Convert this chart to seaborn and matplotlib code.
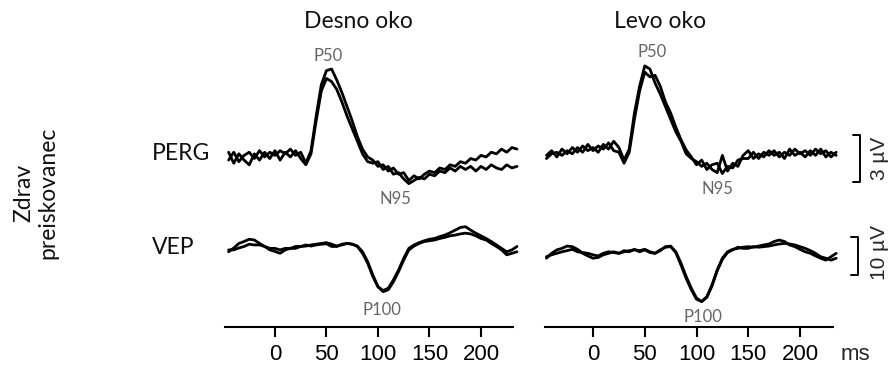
import numpy as np
import pandas as pd
import seaborn as sns
import matplotlib.pyplot as plt

# time axis (ms), one sample every 5 ms
t = np.arange(-45, 240, 5)

# PERG, desno oko (uV)
perg_desno_1 = [-0.2, 0.3, -0.3, 0.1, 0.3, -0.1, 0.4, 0.0, 0.3, 0.1, 0.4, 0.2, 0.5, 0.1, 0.3,
                -0.4, 0.4, 2.6, 4.6, 5.5, 5.6, 4.9, 4.1, 3.2, 2.3, 1.3, 0.5, 0.0, -0.2, -0.6,
                -0.5, -0.9, -0.7, -1.1, -1.0, -1.5, -1.2, -1.4, -1.1, -0.9, -1.0, -0.7, -0.8,
                -0.5, -0.6, -0.3, -0.4, -0.1, -0.2, 0.1, 0.0, 0.3, 0.2, 0.5, 0.3, 0.6, 0.5]
perg_desno_2 = [0.3, -0.4, 0.2, -0.2, -0.5, 0.2, -0.2, 0.3, -0.1, 0.4, -0.2, 0.3, 0.0, 0.4, -0.1,
                -0.5, 0.2, 2.3, 4.2, 5.0, 4.8, 4.3, 3.5, 2.6, 1.8, 1.0, 0.2, -0.3, -0.4, -0.3,
                -0.8, -0.6, -1.1, -1.0, -1.4, -1.7, -1.5, -1.3, -1.4, -1.1, -1.2, -0.9, -1.0,
                -0.7, -0.9, -0.6, -0.8, -0.6, -0.9, -0.6, -0.8, -0.5, -0.7, -0.8, -0.5, -0.7, -0.6]

# PERG, levo oko (uV)
perg_levo_1 = [0.1, 0.4, 0.0, 0.5, 0.2, 0.6, 0.3, 0.7, 0.4, 0.6, 0.3, 0.8, 0.5, 1.0, 0.6,
               -0.2, 0.5, 2.8, 4.5, 5.8, 5.6, 4.7, 4.0, 3.2, 2.4, 1.6, 1.0, 0.2, -0.1, -0.3,
               -0.6, -0.4, -0.8, -1.0, 0.1, -0.9, -0.4, -0.6, 0.1, 0.4, -0.1, 0.2, 0.0,
               0.4, 0.1, 0.3, -0.1, 0.5, 0.1, 0.3, 0.0, 0.4, 0.1, 0.5, 0.0, 0.3, 0.1]
perg_levo_2 = [-0.1, 0.2, 0.3, 0.1, 0.4, 0.2, 0.6, 0.3, 0.8, 0.4, 0.7, 0.5, 0.9, 0.4, 0.3,
               -0.4, 0.3, 2.4, 4.2, 5.4, 5.1, 5.2, 4.5, 3.5, 2.8, 1.9, 1.1, 0.45, 0.0, -0.5,
               -0.2, -0.8, -0.5, -0.4, -1.05, -0.6, -0.7, -0.2, -0.1, -0.1, 0.3, -0.1, 0.3,
               0.1, 0.4, 0.0, 0.3, 0.1, 0.5, 0.2, 0.4, 0.1, 0.5, 0.2, 0.4, 0.0, 0.3]

# VEP, desno oko (uV)
vep_desno_1 = [-1.0, 0.0, 1.2, 1.7, 2.3, 2.1, 1.2, 0.4, -0.1, -0.1, -0.5, -0.1, -0.1, 0.4, 0.4,
               0.5, 0.8, 1.0, 1.2, 1.4, 1.0, 0.5, 0.8, 1.2, 1.0, 0.5, -1.0, -3.6, -7.1, -10.2,
               -11.2, -10.6, -8.4, -5.8, -2.7, -0.1, 0.8, 1.4, 1.9, 2.3, 2.5, 3.0, 3.4, 4.0,
               4.7, 5.4, 5.6, 4.7, 3.9, 3.2, 2.5, 1.7, 0.8, -0.1, -1.0, -0.5, 0.4]
vep_desno_2 = [-0.5, -0.5, 0.0, 0.4, 1.0, 0.8, 0.8, 0.4, -0.5, -0.9, -1.4, -0.5, -0.1, -0.1, 0.4,
               0.8, 0.5, 0.8, 1.0, 1.1, 0.4, 0.4, 1.0, 1.2, 1.0, 0.4, -1.4, -4.0, -7.5, -10.2,
               -11.5, -11.0, -8.9, -6.2, -3.2, -0.5, 0.5, 1.2, 1.7, 1.9, 2.1, 2.5, 2.8, 3.2,
               3.4, 3.7, 3.9, 3.7, 3.2, 2.5, 2.1, 1.2, 0.4, -0.5, -1.8, -1.4, -1.0]

# VEP, levo oko (uV)
vep_levo_1 = [-2.7, -1.4, -0.5, -0.1, 0.5, 0.35, -0.35, -1.4, -2.1, -2.7, -2.5, -1.8, -1.4, -1.0, -1.4,
              -1.0, -0.7, -0.5, -0.7, -0.35, -1.0, -1.4, -0.7, 0.35, 0.5, -1.0, -4.0, -7.5, -10.6, -13.2,
              -14.1, -12.8, -9.7, -5.8, -2.7, -1.0, -0.35, -0.1, 0.2, 0.35, 0.2, 0.5, 0.8, 1.05,
              1.7, 2.1, 1.7, 0.8, 0.35, -0.35, -1.0, -1.4, -2.1, -2.7, -3.2, -2.3, -1.4]
vep_levo_2 = [-2.3, -1.8, -1.4, -1.0, -0.7, -0.35, -1.0, -1.2, -1.4, -1.8, -2.1, -1.4, -1.0, -1.2, -1.4,
              -0.7, -1.0, -0.35, -1.0, -0.5, -1.2, -1.4, -0.5, 0.2, 0.35, -1.2, -4.5, -8.0, -11.0, -13.5,
              -14.1, -13.0, -10.0, -6.0, -3.0, -1.2, -0.5, 0.2, -0.1, -0.1, 0.35, 0.2, 0.35, 0.5,
              0.8, 1.05, 1.2, 1.05, 0.8, 0.35, -0.1, -0.7, -1.4, -2.3, -2.7, -3.2, -2.7]

ticks = [0, 50, 100, 150, 200]
titles = ["Desno oko", "Levo oko"]

sns.set_style("white")
plt.rcParams['font.family'] = ['Liberation Sans', 'DejaVu Sans']

W, H = 894, 366
fig = plt.figure(figsize=(W / 100, H / 100), dpi=100)


def rect(x0, y0, x1, y1):
    return [x0 / W, 1 - y1 / H, (x1 - x0) / W, (y1 - y0) / H]


def px(x, y):
    return x / W, 1 - y / H


cols = [
    (225, 513, (-48.5, 231.1), [perg_desno_1, perg_desno_2], [vep_desno_1, vep_desno_2]),
    (545, 833, (-46.4, 231.9), [perg_levo_1, perg_levo_2], [vep_levo_1, vep_levo_2]),
]

axes = []
for x0, x1, xl, perg, vep in cols:
    ax_p = fig.add_axes(rect(x0, 45, x1, 205))
    ax_v = fig.add_axes(rect(x0, 212, x1, 327))
    for y in perg:
        sns.lineplot(x=t, y=y, ax=ax_p, color='black', lw=2.0, clip_on=False)
    for y in vep:
        sns.lineplot(x=t, y=y, ax=ax_v, color='black', lw=2.0, clip_on=False)
    ax_p.set_xlim(xl)
    ax_p.set_ylim(-3.06, 7.13)
    ax_p.axis('off')
    ax_v.set_xlim(xl)
    ax_v.set_ylim(-20.8, 9.47)
    for s in ['left', 'right', 'top']:
        ax_v.spines[s].set_visible(False)
    ax_v.spines['bottom'].set_linewidth(1.5)
    ax_v.spines['bottom'].set_color('black')
    ax_v.set_yticks([])
    ax_v.set_xticks(ticks)
    ax_v.set_xticklabels([str(v) for v in ticks], fontsize=16)
    ax_v.tick_params(axis='x', bottom=True, direction='out', length=7, width=1.5, pad=5,
                     colors='black')
    ax_v.set_xlabel('')
    ax_v.set_ylabel('')
    axes.append((ax_p, ax_v))

# scale bars on the right panels
ax_p, ax_v = axes[1]
ax_p.plot([251, 258, 258, 251], [1.4, 1.4, -1.6, -1.6], color='black', lw=1.4, clip_on=False)
ax_p.text(277, -0.1, "3 µV", rotation=90, ha='center', va='center', fontsize=15)
ax_v.plot([249, 256, 256, 249], [2.9, 2.9, -7.1, -7.1], color='black', lw=1.4, clip_on=False)
ax_v.text(277, -1.1, "10 µV", rotation=90, ha='center', va='center', fontsize=15)

# text labels
lab = dict(family=['Lato', 'DejaVu Sans'], fontsize=16.5, color='#111111')
fig.text(*px(358, 22), titles[0], ha='center', va='center', **lab)
fig.text(*px(660, 22), titles[1], ha='center', va='center', **lab)
fig.text(*px(152, 154), "PERG", ha='left', va='center', **lab)
fig.text(*px(152, 247), "VEP", ha='left', va='center', **lab)
fig.text(*px(36, 193), "Zdrav\npreiskovanec", rotation=90, ha='center', va='center',
         multialignment='center', linespacing=1.2, **lab)

peak = dict(family=['Lato', 'DejaVu Sans'], fontsize=12, color='#666666', ha='center', va='center')
fig.text(*px(328, 56), "P50", **peak)
fig.text(*px(395, 199), "N95", **peak)
fig.text(*px(382, 310), "P100", **peak)
fig.text(*px(652, 52), "P50", **peak)
fig.text(*px(717, 189), "N95", **peak)
fig.text(*px(703, 317), "P100", **peak)

fig.text(*px(855, 360), "ms", ha='center', va='baseline', fontsize=16)

fig.savefig("out.png", dpi=100)
